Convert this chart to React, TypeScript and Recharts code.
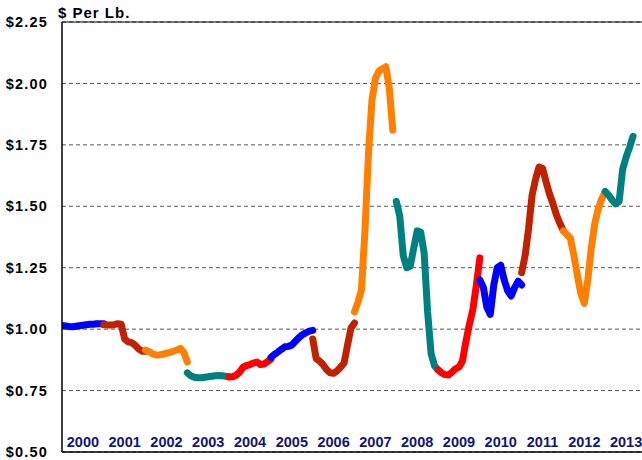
import React from "react";
import { LineChart, Line, XAxis, YAxis, CartesianGrid, ReferenceLine } from "recharts";

const YEARS = [2000, 2001, 2002, 2003, 2004, 2005, 2006, 2007, 2008, 2009, 2010, 2011, 2012, 2013];
const SEGMENT_COLORS = ["#0000ff", "#c02200", "#ff8000", "#008080", "#ff0000"];
const Y_TICKS = [0.5, 0.75, 1.0, 1.25, 1.5, 1.75, 2.0, 2.25];

// Monthly prices ($ per lb.), one array per year
const V2000 = [1.015, 1.013, 1.011, 1.01, 1.012, 1.014, 1.016, 1.018, 1.02, 1.02, 1.022, 1.022, 1.022];
const V2001 = [1.018, 1.017, 1.017, 1.018, 1.022, 1.02, 0.96, 0.948, 0.945, 0.935, 0.92, 0.91, 0.91];
const V2002 = [0.915, 0.908, 0.9, 0.895, 0.895, 0.898, 0.902, 0.905, 0.91, 0.915, 0.922, 0.905, 0.866];
const V2003 = [0.822, 0.81, 0.804, 0.802, 0.802, 0.804, 0.806, 0.808, 0.81, 0.811, 0.81, 0.808, 0.806];
const V2004 = [0.805, 0.806, 0.812, 0.825, 0.845, 0.852, 0.856, 0.862, 0.866, 0.856, 0.858, 0.868, 0.877];
const V2005 = [0.885, 0.897, 0.907, 0.918, 0.928, 0.93, 0.935, 0.95, 0.965, 0.977, 0.985, 0.992, 0.995];
const V2006 = [0.96, 0.88, 0.87, 0.855, 0.835, 0.822, 0.82, 0.83, 0.845, 0.862, 0.935, 1.005, 1.025];
const V2007 = [1.07, 1.11, 1.16, 1.4, 1.71, 1.93, 2.02, 2.05, 2.06, 2.068, 1.98, 1.81];
const V2008 = [1.52, 1.46, 1.3, 1.25, 1.256, 1.33, 1.4, 1.395, 1.31, 1.07, 0.9, 0.85, 0.834];
const V2009 = [0.834, 0.822, 0.815, 0.813, 0.825, 0.838, 0.845, 0.87, 0.95, 1.02, 1.08, 1.18, 1.29];
const V2010 = [1.2, 1.17, 1.09, 1.06, 1.18, 1.25, 1.26, 1.2, 1.155, 1.135, 1.17, 1.195, 1.18];
const V2011 = [1.23, 1.3, 1.41, 1.545, 1.61, 1.66, 1.655, 1.6, 1.55, 1.51, 1.465, 1.43, 1.4];
const V2012 = [1.4, 1.385, 1.37, 1.3, 1.22, 1.145, 1.105, 1.2, 1.33, 1.43, 1.49, 1.53, 1.56];
const V2013 = [1.56, 1.545, 1.525, 1.51, 1.52, 1.65, 1.7, 1.74, 1.785];

const SERIES = [V2000, V2001, V2002, V2003, V2004, V2005, V2006, V2007, V2008, V2009, V2010, V2011, V2012, V2013];

const FONT = '"Liberation Sans", Arial, Helvetica, sans-serif';

const segments = YEARS.map((yr, i) => ({
  year: yr,
  color: SEGMENT_COLORS[i % SEGMENT_COLORS.length],
  data: SERIES[i].map((v, k) => ({ t: yr + k / 12, v })),
}));

const YearTick = (props: any) => {
  const { x, payload } = props;
  return (
    <text
      x={x}
      y={447}
      textAnchor="middle"
      fill="#14147a"
      fontFamily={FONT}
      fontWeight="bold"
      fontSize={14.5}
    >
      {String(Math.floor(payload.value))}
    </text>
  );
};

export default function App() {
  return (
    <div style={{ position: "absolute", left: 0, top: 0, width: 642, height: 460, overflow: "hidden", background: "#fff" }}>
      <LineChart width={660} height={460} margin={{ top: 22, right: 13, bottom: 0, left: 0 }}>
        <CartesianGrid vertical={false} strokeDasharray="4 3" stroke="#555" />
        <XAxis
          type="number"
          dataKey="t"
          domain={[2000, 2014]}
          ticks={YEARS.map((y) => y + 0.5)}
          interval={0}
          tick={<YearTick />}
          tickLine={false}
          axisLine={{ stroke: "#000", strokeWidth: 1.5 }}
          height={8}
          allowDataOverflow
        />
        <YAxis
          type="number"
          domain={[0.5, 2.25]}
          ticks={Y_TICKS}
          interval={0}
          width={62}
          tickSize={0}
          tickMargin={14}
          tickLine={false}
          axisLine={{ stroke: "#000", strokeWidth: 1.5 }}
          tickFormatter={(v: number) => `$${v.toFixed(2)}`}
          tick={{ fill: "#000", fontFamily: FONT, fontWeight: "bold", fontSize: 14.5, letterSpacing: 1.2 }}
          allowDataOverflow
        />
        <ReferenceLine y={2.25} stroke="#000" strokeWidth={1.2} />
        {segments.map((s) => (
          <Line
            key={s.year}
            data={s.data}
            dataKey="v"
            type="linear"
            stroke={s.color}
            strokeWidth={7}
            strokeLinecap="round"
            strokeLinejoin="round"
            dot={false}
            activeDot={false}
            isAnimationActive={false}
          />
        ))}
      </LineChart>
      <svg width={642} height={30} style={{ position: "absolute", left: 0, top: 0, pointerEvents: "none" }}>
        <text x={58} y={18} fontFamily={FONT} fontWeight="bold" fontSize={15} letterSpacing={1} fill="#000">
          $ Per Lb.
        </text>
      </svg>
    </div>
  );
}
